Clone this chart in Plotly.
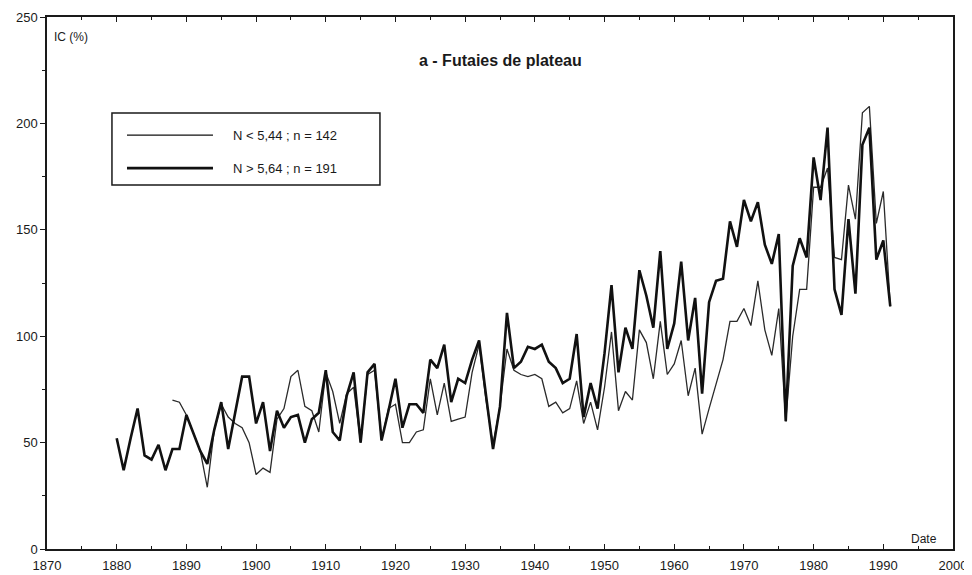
import plotly.graph_objects as go

years = list(range(1880, 1992))

# N > 5,64 ; n = 191 (thick line)
ic_high = [52, 37, 52, 66, 44, 42, 49, 37, 47, 47,
           63, 54, 46, 40, 56, 69, 47, 64, 81, 81,
           59, 69, 46, 65, 57, 62, 63, 50, 61, 64,
           84, 55, 51, 72, 83, 50, 83, 87, 51, 65,
           80, 57, 68, 68, 64, 89, 85, 96, 69, 80,
           78, 89, 98, 72, 47, 67, 111, 85, 88, 95,
           94, 96, 88, 85, 78, 80, 101, 62, 78, 66,
           92, 124, 83, 104, 94, 131, 119, 104, 140, 94,
           106, 135, 98, 118, 73, 116, 126, 127, 154, 142,
           164, 154, 163, 143, 134, 148, 60, 133, 146, 137,
           184, 164, 198, 122, 110, 155, 120, 190, 198, 136,
           145, 114]

# N < 5,44 ; n = 142 (thin line), starts in 1888
ic_low = [None] * 8 + [70, 69,
          63, 54, 46, 29, 56, 68, 62, 59, 57, 50,
          35, 38, 36, 61, 66, 81, 84, 67, 65, 55,
          83, 74, 59, 73, 76, 50, 82, 84, 51, 66,
          68, 50, 50, 55, 56, 80, 63, 78, 60, 61,
          62, 83, 96, 70, 49, 67, 94, 84, 82, 81,
          82, 80, 67, 69, 64, 66, 79, 59, 69, 56,
          76, 102, 65, 74, 70, 103, 97, 80, 107, 82,
          87, 98, 72, 85, 54, 66, 77, 89, 107, 107,
          113, 105, 126, 103, 91, 113, 60, 100, 122, 122,
          170, 170, 179, 137, 136, 171, 155, 205, 208, 153,
          168, 114]

series_names = ["N < 5,44 ; n = 142", "N > 5,64 ; n = 191"]
x_ticks = list(range(1870, 2001, 10))
y_ticks = list(range(0, 251, 50))

FONT = "Liberation Sans, Arial, sans-serif"
INK = "#1a1a1a"

fig = go.Figure()
fig.add_trace(go.Scatter(x=years, y=ic_low, mode="lines", name=series_names[0],
                         line=dict(color="#2a2a2a", width=1.3), connectgaps=False))
fig.add_trace(go.Scatter(x=years, y=ic_high, mode="lines", name=series_names[1],
                         line=dict(color="#111111", width=2.6)))

# The page body adds an 8px margin, so the figure is sized to fit inside it
fig.update_layout(
    width=964, height=567,
    margin=dict(l=39, r=19, t=9, b=26),
    paper_bgcolor="white", plot_bgcolor="white",
    showlegend=False,
    font=dict(family=FONT, size=13, color=INK),
)

fig.update_xaxes(
    range=[1870, 2000], tickvals=x_ticks, ticktext=[str(v) for v in x_ticks],
    automargin=False,
    showgrid=False, zeroline=False,
    showline=True, linecolor=INK, linewidth=1.5, mirror="ticks",
    ticks="inside", ticklen=5, tickwidth=1.2, tickcolor=INK,
    ticklabelstandoff=4,
    minor=dict(dtick=5, tick0=1870, ticks="inside", ticklen=3, tickwidth=1, tickcolor=INK),
    tickfont=dict(size=13, family=FONT, color=INK),
)
fig.update_yaxes(
    range=[0, 250], tickvals=y_ticks, ticktext=[str(v) for v in y_ticks],
    automargin=False,
    showgrid=False, zeroline=False,
    showline=True, linecolor=INK, linewidth=1.5, mirror=True,
    ticks="outside", ticklen=5, tickwidth=1.2, tickcolor=INK,
    minor=dict(dtick=25, tick0=0, ticks="outside", ticklen=3, tickwidth=1, tickcolor=INK),
    tickfont=dict(size=13, family=FONT, color=INK),
)

# Axis titles and chart title placed inside the frame, as in the original
fig.add_annotation(text="IC (%)", xref="paper", yref="paper", x=0.006, y=0.962,
                   xanchor="left", yanchor="middle", showarrow=False,
                   font=dict(size=12, family=FONT, color=INK))
fig.add_annotation(text="Date", xref="paper", yref="paper", x=0.968, y=0.019,
                   xanchor="center", yanchor="middle", showarrow=False,
                   font=dict(size=12, family=FONT, color=INK))
fig.add_annotation(text="<b>a - Futaies de plateau</b>", xref="paper", yref="paper",
                   x=0.5, y=0.919, xanchor="center", yanchor="middle", showarrow=False,
                   font=dict(size=16, family=FONT, color=INK))

# Hand-drawn legend box as in the original figure
fig.add_shape(type="rect", xref="paper", yref="paper", x0=0.0717, x1=0.3675,
              y0=0.684, y1=0.8195, line=dict(color=INK, width=1.5), fillcolor="white")
legend_y = [0.778, 0.716]
legend_w = [1.3, 2.6]
for name, ly, lw in zip(series_names, legend_y, legend_w):
    fig.add_shape(type="line", xref="paper", yref="paper", x0=0.0883, x1=0.1832,
                  y0=ly, y1=ly, line=dict(color="#111111", width=lw))
    fig.add_annotation(text=name, xref="paper", yref="paper", x=0.2031, y=ly,
                       xanchor="left", yanchor="middle", showarrow=False,
                       font=dict(size=13, family=FONT, color=INK))

fig.write_html("out.html")
